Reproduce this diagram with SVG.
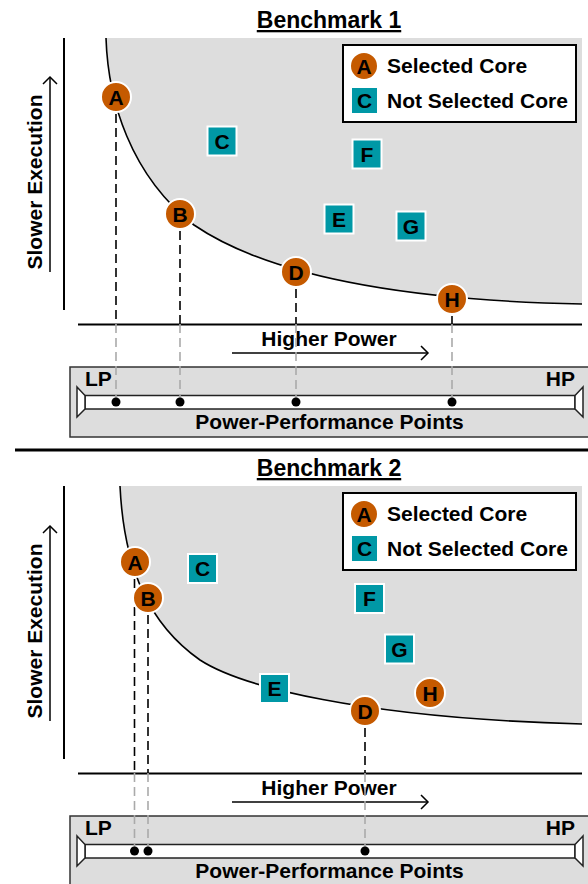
<svg xmlns="http://www.w3.org/2000/svg" width="588" height="884" viewBox="0 0 588 884">
<style>
text{font-family:"Liberation Sans",Arial,sans-serif;font-weight:bold;font-size:21px;fill:#000}
.ttl{font-size:23px;text-anchor:middle;text-decoration:underline}
.mid{text-anchor:middle}
.end{text-anchor:end}
.sel circle{fill:#C55A00;stroke:#fff;stroke-width:2}
.nsel rect{fill:#0098A6;stroke:#fff;stroke-width:2}
.lbl{text-anchor:middle}
.region{fill:#DDDDDD;stroke:none}
.curve{fill:none;stroke:#000;stroke-width:1.6}
.axis{stroke:#000;stroke-width:2;fill:none}
.arr{stroke:#000;stroke-width:1.5;fill:none}
.box{fill:#DDDDDD;stroke:#333;stroke-width:1.5}
.bar{fill:#fff;stroke:#222;stroke-width:1.5}
.legend{fill:#fff;stroke:#000;stroke-width:2}
.dk{stroke:#000;stroke-width:1.6;stroke-dasharray:9 5;fill:none}
.lt{stroke:#aaa;stroke-width:1.6;stroke-dasharray:9 5;fill:none}
.dot{fill:#000}
</style>

<!-- Panel 1 frame -->
<g id="panel1-frame">
  <path class="region" d="M106,38 C108,100 130,175 194,225 C260,270 380,300 582,304 L582,38 Z"/>
  <path class="curve" d="M106,38 C108,100 130,175 194,225 C260,270 380,300 582,304"/>
  <text class="ttl" x="329" y="28">Benchmark 1</text>
  <line class="axis" x1="64" y1="38" x2="64" y2="310"/>
  <line class="arr" x1="50" y1="272" x2="50" y2="77"/>
  <polyline class="arr" points="43,84 50,77 57,84"/>
  <text class="mid" transform="translate(42,182) rotate(-90)">Slower Execution</text>
  <line class="axis" x1="78" y1="324.5" x2="582" y2="324.5"/>
  <text class="mid" x="329" y="346">Higher Power</text>
  <line class="arr" x1="232" y1="353" x2="428" y2="353"/>
  <polyline class="arr" points="421,346 428,353 421,360"/>
  <rect class="box" x="70" y="367" width="520" height="70"/>
  <rect class="bar" x="85" y="395.5" width="490" height="13.5"/>
  <polygon class="bar" points="77,387 85,395.5 85,409 77,417"/>
  <polygon class="bar" points="583,387 575,395.5 575,409 583,417"/>
  <text x="85" y="386">LP</text>
  <text class="end" x="575" y="386">HP</text>
  <text class="mid" x="329.5" y="429">Power-Performance Points</text>
</g>
<g id="legend1">
  <rect class="legend" x="343" y="45" width="233" height="77"/>
  <g class="sel"><circle cx="364" cy="66" r="14"/></g>
  <text class="lbl" x="364" y="73.5">A</text>
  <g class="nsel"><rect x="352" y="88" width="25" height="25" style="stroke:none"/></g>
  <text class="lbl" x="364.5" y="108">C</text>
  <text x="387" y="73">Selected Core</text>
  <text x="387" y="108">Not Selected Core</text>
</g>

<line id="separator" x1="15" y1="450" x2="588" y2="450" stroke="#000" stroke-width="3"/>

<!-- Panel 2 frame -->
<g id="panel2-frame">
  <path class="region" d="M120,486 C124,570 150,625 200,660 C240,686 360,718 582,724 L582,486 Z"/>
  <path class="curve" d="M120,486 C124,570 150,625 200,660 C240,686 360,718 582,724"/>
  <text class="ttl" x="329" y="476">Benchmark 2</text>
  <line class="axis" x1="64" y1="486" x2="64" y2="759"/>
  <line class="arr" x1="50" y1="721" x2="50" y2="526"/>
  <polyline class="arr" points="43,533 50,526 57,533"/>
  <text class="mid" transform="translate(42,631) rotate(-90)">Slower Execution</text>
  <line class="axis" x1="78" y1="773.5" x2="582" y2="773.5"/>
  <text class="mid" x="329" y="795">Higher Power</text>
  <line class="arr" x1="232" y1="802" x2="428" y2="802"/>
  <polyline class="arr" points="421,795 428,802 421,809"/>
  <rect class="box" x="70" y="816" width="520" height="70"/>
  <rect class="bar" x="85" y="844.5" width="490" height="13.5"/>
  <polygon class="bar" points="77,836 85,844.5 85,858 77,866"/>
  <polygon class="bar" points="583,836 575,844.5 575,858 583,866"/>
  <text x="85" y="835">LP</text>
  <text class="end" x="575" y="835">HP</text>
  <text class="mid" x="329.5" y="878">Power-Performance Points</text>
</g>
<g id="legend2">
  <rect class="legend" x="343" y="493" width="233" height="77"/>
  <g class="sel"><circle cx="364" cy="514" r="14"/></g>
  <text class="lbl" x="364" y="521.5">A</text>
  <g class="nsel"><rect x="352" y="536" width="25" height="25" style="stroke:none"/></g>
  <text class="lbl" x="364.5" y="556">C</text>
  <text x="387" y="521">Selected Core</text>
  <text x="387" y="556">Not Selected Core</text>
</g>

<g id="connectors">
  <line class="dk" x1="116" y1="114" x2="116" y2="324"/>
  <line class="lt" x1="116" y1="324" x2="116" y2="402"/>
  <line class="dk" x1="180" y1="231" x2="180" y2="324"/>
  <line class="lt" x1="180" y1="324" x2="180" y2="402"/>
  <line class="dk" x1="296" y1="289" x2="296" y2="324"/>
  <line class="lt" x1="296" y1="324" x2="296" y2="402"/>
  <line class="dk" x1="452" y1="316" x2="452" y2="324"/>
  <line class="lt" x1="452" y1="324" x2="452" y2="402"/>
  <line class="dk" x1="134.5" y1="579" x2="134.5" y2="773"/>
  <line class="lt" x1="134.5" y1="773" x2="134.5" y2="851"/>
  <line class="dk" x1="148" y1="615" x2="148" y2="773"/>
  <line class="lt" x1="148" y1="773" x2="148" y2="851"/>
  <line class="dk" x1="365" y1="728" x2="365" y2="773"/>
  <line class="lt" x1="365" y1="773" x2="365" y2="851"/>
  <circle class="dot" cx="116" cy="402" r="4.5"/>
  <circle class="dot" cx="180" cy="402" r="4.5"/>
  <circle class="dot" cx="296" cy="402" r="4.5"/>
  <circle class="dot" cx="452" cy="402" r="4.5"/>
  <circle class="dot" cx="134.5" cy="851" r="4.5"/>
  <circle class="dot" cx="148" cy="851" r="4.5"/>
  <circle class="dot" cx="365" cy="851" r="4.5"/>
</g>

<g id="p1-C" class="nsel"><rect x="207.5" y="126.5" width="29" height="29"/><text class="lbl" x="222" y="148.5">C</text></g>
<g id="p1-F" class="nsel"><rect x="352.5" y="139.5" width="29" height="29"/><text class="lbl" x="367" y="161.5">F</text></g>
<g id="p1-E" class="nsel"><rect x="324.5" y="204.5" width="29" height="29"/><text class="lbl" x="339" y="226.5">E</text></g>
<g id="p1-G" class="nsel"><rect x="396.5" y="211.5" width="29" height="29"/><text class="lbl" x="411" y="233.5">G</text></g>
<g id="p1-A" class="sel"><circle cx="116" cy="97" r="15"/><text class="lbl" x="116" y="104.5">A</text></g>
<g id="p1-B" class="sel"><circle cx="180" cy="214" r="15"/><text class="lbl" x="180" y="221.5">B</text></g>
<g id="p1-D" class="sel"><circle cx="296" cy="272" r="15"/><text class="lbl" x="296" y="279.5">D</text></g>
<g id="p1-H" class="sel"><circle cx="452" cy="299" r="15"/><text class="lbl" x="452" y="306.5">H</text></g>

<g id="p2-C" class="nsel"><rect x="188" y="554" width="29" height="29"/><text class="lbl" x="202.5" y="576">C</text></g>
<g id="p2-F" class="nsel"><rect x="355" y="584" width="29" height="29"/><text class="lbl" x="369.5" y="606">F</text></g>
<g id="p2-G" class="nsel"><rect x="385" y="634.5" width="29" height="29"/><text class="lbl" x="399.5" y="656.5">G</text></g>
<g id="p2-E" class="nsel"><rect x="260" y="674" width="29" height="29"/><text class="lbl" x="274.5" y="696">E</text></g>
<g id="p2-A" class="sel"><circle cx="135" cy="562" r="15"/><text class="lbl" x="135" y="569.5">A</text></g>
<g id="p2-B" class="sel"><circle cx="148" cy="598" r="15"/><text class="lbl" x="148" y="605.5">B</text></g>
<g id="p2-D" class="sel"><circle cx="365" cy="711" r="15"/><text class="lbl" x="365" y="718.5">D</text></g>
<g id="p2-H" class="sel"><circle cx="430" cy="693" r="15"/><text class="lbl" x="430" y="700.5">H</text></g>
</svg>
